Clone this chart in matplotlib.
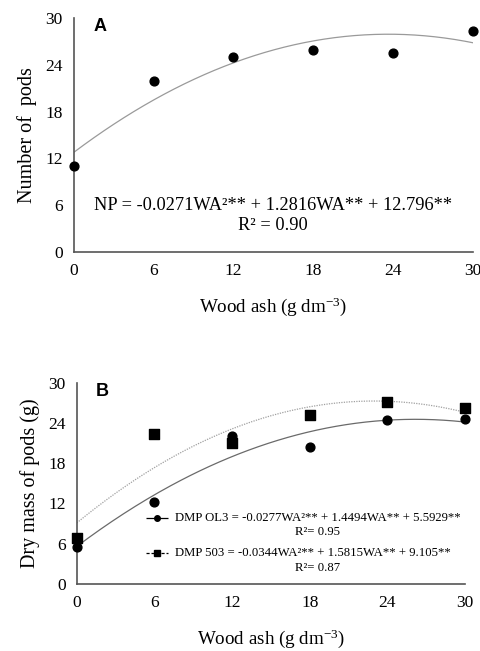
import numpy as np
import matplotlib
matplotlib.use("Agg")
import matplotlib.pyplot as plt

plt.rcParams["font.family"] = ["Liberation Serif", "DejaVu Serif"]
plt.rcParams["mathtext.fontset"] = "custom"
plt.rcParams["mathtext.rm"] = "Liberation Serif"
plt.rcParams["mathtext.it"] = "Liberation Serif:italic"

# data
wood_ash = [0, 6, 12, 18, 24, 30]
pods = [11.0, 22.0, 25.0, 25.9, 25.6, 28.4]
dmp_ol3 = [5.5, 12.2, 22.0, 20.4, 24.5, 24.6]
dmp_503 = [6.9, 22.4, 21.0, 25.2, 27.2, 26.3]

# fitted quadratic coefficients (a, b, c) from the figure equations
fit_np = (-0.0271, 1.2816, 12.796)
fit_ol3 = (-0.0277, 1.4494, 5.5929)
fit_503 = (-0.0344, 1.5815, 9.105)

y_ticks = [0, 6, 12, 18, 24, 30]
axis_color = "#555555"
curve_x = np.linspace(0, 30, 200)


def quad(coef, x):
    a, b, c = coef
    return a * x ** 2 + b * x + c


def style_axes(ax, ylabel):
    ax.set_xlim(0, 30)
    ax.set_ylim(0, 30)
    ax.set_xticks(wood_ash)
    ax.set_yticks(y_ticks)
    for side in ["top", "right"]:
        ax.spines[side].set_visible(False)
    for side in ["left", "bottom"]:
        ax.spines[side].set_color(axis_color)
        ax.spines[side].set_linewidth(1.2)
    ax.tick_params(length=0, labelsize=12.5, pad=8)
    ax.set_ylabel(ylabel, fontsize=14.5, labelpad=6)
    ax.set_xlabel("Wood ash (g dm$^{-3}$)", fontsize=13.7, labelpad=12)
    for lab in ax.get_xticklabels() + ax.get_yticklabels():
        lab.set_clip_on(False)


fig = plt.figure(figsize=(4.8, 6.51), dpi=100)

# panel A
ax1 = fig.add_axes([0.154, 0.613, 0.831, 0.359])
ax1.plot(curve_x, quad(fit_np, curve_x), color="#9a9a9a", lw=0.9)
ax1.scatter(wood_ash, pods, s=40, color="black", zorder=3, clip_on=False)
style_axes(ax1, "Number of  pods")
ax1.text(0.05, 1.0, "A", transform=ax1.transAxes, fontsize=13,
         fontweight="bold", family="Liberation Sans", va="top")
ax1.text(15, 6.0, "NP = -0.0271WA²** + 1.2816WA** + 12.796**",
         ha="center", va="center", fontsize=13.2)
ax1.text(15, 3.4, "R² = 0.90", ha="center", va="center", fontsize=13.2)

# panel B
ax2 = fig.add_axes([0.160, 0.103, 0.809, 0.309])
ax2.plot(curve_x, quad(fit_ol3, curve_x), color="#6a6a6a", lw=0.9)
ax2.plot(curve_x, quad(fit_503, curve_x), color="#a0a0a0", lw=0.9, ls=(0, (1, 1)))
ax2.scatter(wood_ash, dmp_ol3, s=40, marker="o", color="black", zorder=3, clip_on=False)
ax2.scatter(wood_ash, dmp_503, s=44, marker="s", color="black", zorder=3, clip_on=False)
style_axes(ax2, "Dry mass of pods (g)")
ax2.text(0.05, 1.0, "B", transform=ax2.transAxes, fontsize=13,
         fontweight="bold", family="Liberation Sans", va="top")

legend_rows = [
    ((0, ()), "o", "DMP OL3 = -0.0277WA²** + 1.4494WA** + 5.5929**", "R²= 0.95", 0.33, 0.26),
    ((0, (2.5, 1.5)), "s", "DMP 503 = -0.0344WA²** + 1.5815WA** + 9.105**", "R²= 0.87", 0.155, 0.08),
]
tr = ax2.transAxes
for ls, mk, eq, r2, y_eq, y_r2 in legend_rows:
    ax2.plot([0.178, 0.206, 0.235], [y_eq, y_eq, y_eq], transform=tr, color="black",
             lw=0.9, ls=ls, marker=mk, markevery=[1], markersize=4)
    ax2.text(0.252, y_eq, eq, transform=tr, fontsize=9.2, va="center")
    ax2.text(0.62, y_r2, r2, transform=tr, fontsize=9.2, va="center", ha="center")

fig.savefig("out.png", dpi=100)
